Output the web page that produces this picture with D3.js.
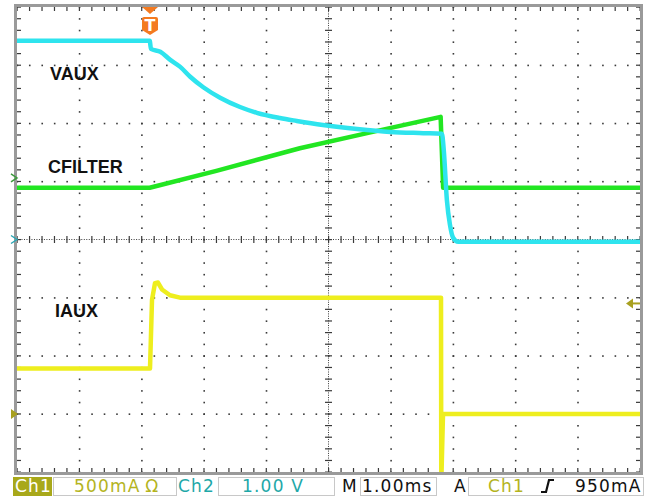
<!DOCTYPE html>
<html>
<head>
<meta charset="utf-8">
<script src="https://cdn.jsdelivr.net/npm/d3@7"></script>
<style>
  body { margin: 0; background: #fff; }
  svg { display: block; }
</style>
</head>
<body>
<svg width="657" height="498"></svg>
<script>
// time in ms from left edge of the screen (1.00 ms/div, 10 div)
const triggerTime = 2.135;

// Ch2 VAUX, volts (1.00 V/div)
const vauxTime = [0, 2.13, 2.15, 2.30, 2.46, 2.62, 2.78, 2.99, 3.26, 3.58, 3.85, 4.22, 4.49, 4.91, 5.46, 5.99, 6.52, 6.82, 6.85, 6.90, 6.95, 7.00, 7.08, 10];
const vauxVolts = [3.42, 3.42, 3.28, 3.23, 3.09, 2.97, 2.80, 2.62, 2.44, 2.28, 2.18, 2.09, 2.04, 1.97, 1.90, 1.85, 1.83, 1.82, 1.54, 0.68, 0.25, 0.03, -0.04, -0.04];

// CFILTER, volts (1.00 V/div, ref marker one div above centre)
const cfilterTime = [0, 2.13, 3.20, 4.54, 5.62, 6.80, 6.84, 10];
const cfilterVolts = [-0.17, -0.17, 0.12, 0.51, 0.77, 1.05, -0.17, -0.17];

// Ch1 IAUX, amps (500 mA/div)
const iauxTime = [0, 2.135, 2.167, 2.215, 2.263, 2.327, 2.456, 2.616, 6.806, 6.81, 6.838, 10];
const iauxAmps = [0.39, 0.39, 0.98, 1.125, 1.13, 1.07, 1.02, 1.0, 1.0, -0.6, 0.0, 0.0];

const channels = [
  { name: 'IAUX', time: iauxTime, values: iauxAmps, perDiv: 0.5, offset: -3.0, color: '#eeee1e', label: [55, 317], curve: d3.curveLinear },
  { name: 'CFILTER', time: cfilterTime, values: cfilterVolts, perDiv: 1.0, offset: 1.06, color: '#22e622', label: [48, 173], curve: d3.curveLinear },
  { name: 'VAUX', time: vauxTime, values: vauxVolts, perDiv: 1.0, offset: 0, color: '#2ee4ee', label: [50, 80], curve: d3.curveMonotoneX }
];

const svg = d3.select('svg');
const plot = { left: 17, right: 640, top: 7, bottom: 472 };

const xScale = d3.scaleLinear().domain([0, 10]).range([plot.left, plot.right]);
const yScale = d3.scaleLinear().domain([-4, 4]).range([plot.bottom, plot.top]);

svg.append('clipPath').attr('id', 'plotclip')
  .append('rect')
    .attr('x', plot.left).attr('y', plot.top)
    .attr('width', plot.right - plot.left).attr('height', plot.bottom - plot.top);

// graticule
const grid = svg.append('g').attr('class', 'graticule').attr('fill', '#3a3a3a');
const minorX = d3.range(0, 10.001, 0.2);
const minorY = d3.range(-4, 4.001, 0.2);

// dotted grid lines at each major division
d3.range(1, 10).filter(d => d !== 5).forEach(d => {
  grid.selectAll(null).data(minorY).enter().append('rect')
    .attr('x', xScale(d) - 0.5).attr('y', v => yScale(v) - 0.5)
    .attr('width', 1.6).attr('height', 1.6);
});
d3.range(-3, 4).filter(d => d !== 0).forEach(d => {
  grid.selectAll(null).data(minorX).enter().append('rect')
    .attr('x', v => xScale(v) - 0.5).attr('y', yScale(d) - 0.5)
    .attr('width', 1.6).attr('height', 1.6);
});

// centre axes: fine dotted line with tick crosses
const cx = xScale(5), cy = yScale(0);
grid.selectAll(null).data(d3.range(0, 10.001, 0.04)).enter().append('rect')
  .attr('x', v => xScale(v) - 0.5).attr('y', cy - 0.5).attr('width', 1).attr('height', 1);
grid.selectAll(null).data(d3.range(-4, 4.001, 0.04)).enter().append('rect')
  .attr('x', cx - 0.5).attr('y', v => yScale(v) - 0.5).attr('width', 1).attr('height', 1);
grid.selectAll(null).data(minorX).enter().append('rect')
  .attr('x', v => xScale(v) - 0.5).attr('y', cy - 3.5).attr('width', 1.2).attr('height', 7);
grid.selectAll(null).data(minorY).enter().append('rect')
  .attr('x', cx - 3.5).attr('y', v => yScale(v) - 0.5).attr('width', 7).attr('height', 1.2);

// edge ticks
grid.selectAll(null).data(minorX).enter().append('rect')
  .attr('x', v => xScale(v) - 0.5).attr('y', plot.top).attr('width', 1.2).attr('height', 4);
grid.selectAll(null).data(minorX).enter().append('rect')
  .attr('x', v => xScale(v) - 0.5).attr('y', plot.bottom - 4).attr('width', 1.2).attr('height', 4);
grid.selectAll(null).data(minorY).enter().append('rect')
  .attr('x', plot.left).attr('y', v => yScale(v) - 0.5).attr('width', 4).attr('height', 1.2);
grid.selectAll(null).data(minorY).enter().append('rect')
  .attr('x', plot.right - 4).attr('y', v => yScale(v) - 0.5).attr('width', 4).attr('height', 1.2);

// frame
svg.append('rect')
  .attr('x', plot.left - 1.5).attr('y', plot.top - 1.5)
  .attr('width', plot.right - plot.left + 3).attr('height', plot.bottom - plot.top + 3)
  .attr('fill', 'none').attr('stroke', '#9a9a9a').attr('stroke-width', 3);

// traces
const traces = svg.append('g').attr('clip-path', 'url(#plotclip)');
channels.forEach(ch => {
  const line = d3.line()
    .curve(ch.curve)
    .x((t, i) => xScale(t))
    .y((t, i) => yScale(ch.values[i] / ch.perDiv + ch.offset));
  traces.append('path')
    .attr('d', line(ch.time))
    .attr('fill', 'none')
    .attr('stroke', ch.color)
    .attr('stroke-width', 4.5)
    .attr('stroke-linejoin', 'round');
});

// trace labels
channels.forEach(ch => {
  svg.append('text')
    .attr('x', ch.label[0]).attr('y', ch.label[1])
    .attr('font-family', 'Liberation Sans, Arial, sans-serif')
    .attr('font-weight', 'bold').attr('font-size', 18)
    .attr('fill', '#111')
    .text(ch.name);
});

// trigger position marker (top)
const tx = xScale(triggerTime);
const trig = svg.append('g').attr('fill', '#f47a20');
trig.append('path').attr('d', `M${tx - 8},${plot.top} L${tx + 8},${plot.top} L${tx},${plot.top + 7} Z`);
trig.append('path').attr('d', `M${tx - 8},${plot.top + 12} Q${tx - 8},${plot.top + 10} ${tx - 6},${plot.top + 10} L${tx + 6},${plot.top + 10} Q${tx + 8},${plot.top + 10} ${tx + 8},${plot.top + 12} L${tx + 8},${plot.top + 23} L${tx},${plot.top + 28} L${tx - 8},${plot.top + 23} Z`);
svg.append('text')
  .attr('x', tx).attr('y', plot.top + 24)
  .attr('text-anchor', 'middle')
  .attr('font-family', 'DejaVu Sans, sans-serif').attr('font-weight', 'bold').attr('font-size', 16)
  .attr('fill', '#fff').text('T');

// channel reference markers (left)
const markerStyles = [
  { ch: channels[1], color: '#3c9a3c', filled: false },
  { ch: channels[2], color: '#2aa6b4', filled: false },
  { ch: channels[0], color: '#a8a020', filled: true }
];
markerStyles.forEach(m => {
  const my = yScale(m.ch.offset);
  if (m.filled) {
    svg.append('path').attr('d', `M${plot.left - 6},${my - 5} L${plot.left + 1},${my} L${plot.left - 6},${my + 5} Z`)
      .attr('fill', m.color);
  } else {
    svg.append('path').attr('d', `M${plot.left - 6},${my - 4} L${plot.left},${my} L${plot.left - 6},${my + 4}`)
      .attr('fill', 'none').attr('stroke', m.color).attr('stroke-width', 1.5);
  }
});

// trigger level marker (right), 950 mA on Ch1
const triggerLevel = 0.95;
const ly = yScale(triggerLevel / channels[0].perDiv + channels[0].offset);
svg.append('path')
  .attr('d', `M${plot.right - 14},${ly} L${plot.right - 7},${ly - 5} L${plot.right - 7},${ly + 5} Z`)
  .attr('fill', '#a8a020');
svg.append('line')
  .attr('x1', plot.right - 8).attr('x2', plot.right).attr('y1', ly).attr('y2', ly)
  .attr('stroke', '#a8a020').attr('stroke-width', 2);

// status bar
const statusY = 477, statusH = 18;
const olive = '#b4b41e', teal = '#1ea8a8';
const status = svg.append('g')
  .attr('font-family', 'DejaVu Sans, sans-serif').attr('font-size', 17);

const boxes = [
  { x: 53, w: 123 },
  { x: 218, w: 116 },
  { x: 360, w: 76 },
  { x: 468, w: 175 }
];
boxes.forEach(b => {
  status.append('rect')
    .attr('x', b.x + 0.5).attr('y', statusY + 0.5).attr('width', b.w).attr('height', statusH)
    .attr('fill', 'none').attr('stroke', '#c8c8c8');
});
status.append('rect')
  .attr('x', 13).attr('y', statusY).attr('width', 39).attr('height', statusH + 1)
  .attr('fill', '#a8a81a');

const statusTexts = [
  { x: 15, text: 'Ch1', color: '#fff' },
  { x: 74, text: '500mA\u2009Ω', color: olive },
  { x: 178, text: 'Ch2', color: teal },
  { x: 242, text: '1.00 V', color: teal },
  { x: 342, text: 'M', color: '#111' },
  { x: 362, text: '1.00ms', color: '#111' },
  { x: 454, text: 'A', color: '#111' },
  { x: 488, text: 'Ch1', color: olive },
  { x: 575, text: '950mA', color: '#111' }
];
status.selectAll(null).data(statusTexts).enter().append('text')
  .attr('x', d => d.x).attr('y', statusY + 15)
  .attr('fill', d => d.color)
  .attr('letter-spacing', 1.2)
  .text(d => d.text);

// rising edge symbol
status.append('path')
  .attr('d', `M${541},${statusY + 15} L${546},${statusY + 15} L${549},${statusY + 3} L${554},${statusY + 3}`)
  .attr('fill', 'none').attr('stroke', '#111').attr('stroke-width', 2.2);
</script>
</body>
</html>
